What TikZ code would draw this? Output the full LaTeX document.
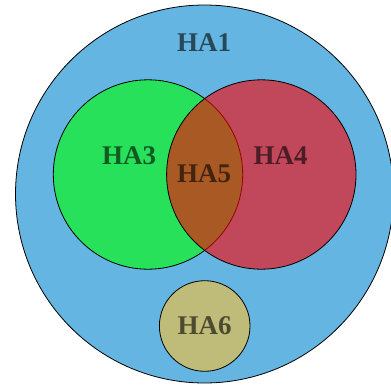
\documentclass[tikz,border=0pt]{standalone}
\usepackage{fontspec}
\setmainfont{Liberation Serif}
\usepackage{tikz}

\definecolor{outerblue}{RGB}{100,181,225}
\definecolor{smallkhaki}{RGB}{191,187,120}

\begin{document}
\begin{tikzpicture}[x=1pt,y=-1pt]
        \tikzstyle{every node} = [circle, inner sep=0pt]
        \tikzstyle{set} = [draw=black, line width=0.8pt]
        \tikzstyle{lbl} = [rectangle, inner sep=0pt, font=\fontsize{27}{27}\selectfont\bfseries, text=black, text opacity=0.6]
        \useasboundingbox (0,0) rectangle (391,388);
        \node[set, fill=outerblue, minimum size=378pt] (ha1) at (204.5,194) {};
        \node[set, fill=green, fill opacity=0.6, draw opacity=1, minimum size=189.4pt] (ha3) at (148,174.5) {};
        \node[set, fill=red, fill opacity=0.6, draw opacity=1, minimum size=189.4pt] (ha4) at (261.3,174.5) {};
        \node[set, fill=smallkhaki, minimum size=90.6pt] (ha6) at (204.7,326) {};
        \node[lbl] (t1) at (204,43) {HA1};
        \node[lbl] (t3) at (129,155.5) {HA3};
        \node[lbl] (t4) at (280.5,155.5) {HA4};
        \node[lbl] (t5) at (204,174) {HA5};
        \node[lbl] (t6) at (204.5,326) {HA6};
    \end{tikzpicture}
\end{document}
